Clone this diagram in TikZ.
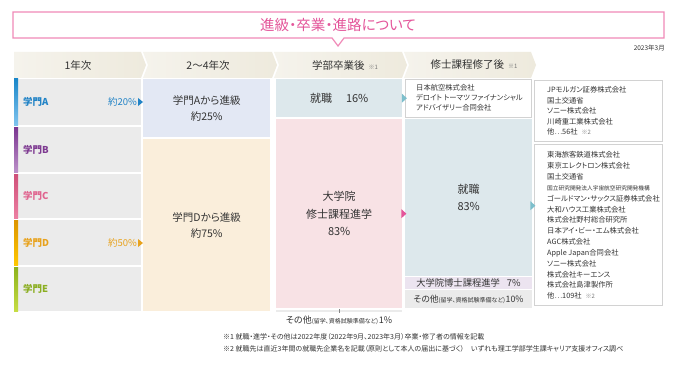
\documentclass[tikz,border=0pt]{standalone}
\usepackage{fontspec}
\setmainfont{Noto Sans CJK JP}[RawFeature=+palt]
\definecolor{titlepink}{HTML}{E4559A}
\definecolor{titleline}{HTML}{F08AB8}
\definecolor{txt}{HTML}{333333}
\definecolor{notegray}{HTML}{777777}
\definecolor{hdrL}{HTML}{F5F3EC}
\definecolor{hdrR}{HTML}{EEEADD}
\definecolor{rowgray}{HTML}{EBEBEB}
\definecolor{cTwoA}{HTML}{E3E8F4}
\definecolor{cTwoD}{HTML}{FAEEDB}
\definecolor{cJob}{HTML}{DDE8EC}
\definecolor{cPink}{HTML}{F8E2E5}
\definecolor{cLav}{HTML}{ECE4F0}
\definecolor{cGray}{HTML}{EBEBEB}
\definecolor{boxline}{HTML}{D2D2D2}
\definecolor{teal}{HTML}{7DBFCC}
\definecolor{Atop}{HTML}{1A87C9}\definecolor{Abot}{HTML}{80C4EE}\definecolor{Atext}{HTML}{2183C6}
\definecolor{Btop}{HTML}{7A3590}\definecolor{Bbot}{HTML}{BC90C9}\definecolor{Btext}{HTML}{7E3A91}
\definecolor{Ctop}{HTML}{CF4F78}\definecolor{Cbot}{HTML}{EC7FA2}\definecolor{Ctext}{HTML}{E0648F}
\definecolor{Dtop}{HTML}{DC9400}\definecolor{Dbot}{HTML}{FFC800}\definecolor{Dtext}{HTML}{E8A21C}
\definecolor{Etop}{HTML}{8DB21C}\definecolor{Ebot}{HTML}{C6DD44}\definecolor{Etext}{HTML}{8BAE21}
\begin{document}
\begin{tikzpicture}[x=1pt,y=-1pt,
  hdrshade/.style={left color=hdrL,right color=hdrR},
  hdrtext/.style={font=\fontsize{10.5}{12}\selectfont,text=txt,inner sep=0},
  cell/.style={rectangle,inner sep=0,draw=none,align=center,text=txt,anchor=north west},
  gakumon/.style={font=\bfseries\fontsize{9.5}{11}\selectfont,inner sep=0,anchor=west},
  pct/.style={font=\fontsize{9.5}{11}\selectfont,inner sep=0,anchor=east},
  comp/.style={font=\fontsize{7.3}{10.5}\selectfont,text=txt,align=left,inner sep=0,anchor=west},
  cbox/.style={draw=boxline,fill=white,line width=0.6pt},
  plain/.style={text=txt,inner sep=0},
  note/.style={font=\fontsize{7}{8}\selectfont,text=txt,inner sep=0,anchor=west}]
\useasboundingbox (0,0) rectangle (675,369);
\fill[white] (0,0) rectangle (675,369);
% title
\draw[titleline,line width=1.2pt,fill=white] (13,12) -- (664,12) -- (664,38) -- (344,38) -- (338,46) -- (332,38) -- (13,38) -- cycle;
\node[font=\fontsize{14.5}{16}\selectfont,text=titlepink,inner sep=0] (title) at (338,25) {進級・卒業・進路について};
\node[font=\fontsize{6.5}{7}\selectfont,text=txt,inner sep=0,anchor=east] (date) at (665,48) {2023年3月};
% headers
\shade[hdrshade] (14,52) -- (141,52) -- (146,65) -- (141,78) -- (14,78) -- cycle;
\shade[hdrshade] (143,52) -- (272,52) -- (277,65) -- (272,78) -- (143,78) -- (148,65) -- cycle;
\shade[hdrshade] (274,52) -- (402,52) -- (407,65) -- (402,78) -- (274,78) -- (279,65) -- cycle;
\shade[hdrshade] (404,52) -- (531,52) -- (536,65) -- (531,78) -- (404,78) -- (409,65) -- cycle;
\node[hdrtext] (h1) at (78,65) {1年次};
\node[hdrtext] (h2) at (208,65) {2〜4年次};
\node[hdrtext] (h3) at (345,65) {学部卒業後\hspace{4pt}{\fontsize{6}{7}\selectfont\color{notegray}※1}};
\node[hdrtext] (h4) at (474,65) {修士課程修了後\hspace{4pt}{\fontsize{6}{7}\selectfont\color{notegray}※1}};
% column 1
\fill[rowgray] (14,79) rectangle (141,125);
\fill[rowgray] (14,127) rectangle (141,172);
\fill[rowgray] (14,174) rectangle (141,218);
\fill[rowgray] (14,220) rectangle (141,265);
\fill[rowgray] (14,267) rectangle (141,311);
\shade[top color=Atop,bottom color=Abot] (14,79) rectangle (18,125);
\shade[top color=Btop,bottom color=Bbot] (14,127) rectangle (18,172);
\shade[top color=Ctop,bottom color=Cbot] (14,174) rectangle (18,218);
\shade[top color=Dtop,bottom color=Dbot] (14,220) rectangle (18,265);
\shade[top color=Etop,bottom color=Ebot] (14,267) rectangle (18,311);
\node[gakumon,text=Atext] (gA) at (23,102) {学門A};
\node[gakumon,text=Btext] (gB) at (23,149.5) {学門B};
\node[gakumon,text=Ctext] (gC) at (23,196) {学門C};
\node[gakumon,text=Dtext] (gD) at (23,242.5) {学門D};
\node[gakumon,text=Etext] (gE) at (23,289) {学門E};
\node[pct,text=Atext] (pA) at (137,102) {約20\%};
\node[pct,text=Dtext] (pD) at (137,243) {約50\%};
% column 2
\node[cell,fill=cTwoA,minimum width=127,minimum height=58,font=\fontsize{10.5}{16}\selectfont] (bA) at (143,79) {学門Aから進級\\約25\%};
\node[cell,fill=cTwoD,minimum width=127,minimum height=172,font=\fontsize{10.5}{16}\selectfont] (bD) at (143,139) {学門Dから進級\\約75\%};
\fill[Atext] (pA.east) ++(1,-4) -- ++(5,4) -- ++(-5,4) -- cycle;
\fill[Dtext] (pD.east) ++(1,-4) -- ++(5,4) -- ++(-5,4) -- cycle;
% column 3
\node[cell,fill=cJob,minimum width=126,minimum height=38,font=\fontsize{11}{13}\selectfont] (job1) at (276,79) {就職\hspace{14pt}16\%};
\node[cell,fill=cPink,minimum width=126,minimum height=189,font=\fontsize{11}{17.5}\selectfont] (grad) at (276,119) {大学院\\修士課程進学\\83\%};
\fill[rowgray] (276,309.5) rectangle (402,312);
\fill[txt!60] (338.6,309) rectangle (339.4,312.5);
\node[plain,font=\fontsize{9}{10}\selectfont] (oth1) at (339,320) {その他{\fontsize{6}{7}\selectfont(留学、資格試験準備など)}\hspace{0.5pt}1\%};
% column 4
\node[cell,cbox,minimum width=126,minimum height=38] (co1) at (405,79) {};
\node[comp,font=\fontsize{7.3}{10}\selectfont] (co1t) at (416,98) {日本航空株式会社\\デロイト トーマツ ファイナンシャル\\アドバイザリー合同会社};
\node[cell,fill=cJob,minimum width=127,minimum height=157,font=\fontsize{11}{17}\selectfont] (job2) at (405,119) {就職\\83\%};
\fill[cLav] (405,277) rectangle (532,289);
\fill[cGray] (405,290) rectangle (532,308);
\node[plain,font=\fontsize{9.3}{10}\selectfont] (doc) at (468.5,283) {大学院博士課程進学\hspace{7pt}7\%};
\node[plain,font=\fontsize{8.8}{10}\selectfont] (oth2) at (468.5,299.5) {その他{\fontsize{6}{7}\selectfont(留学、資格試験準備など)}\hspace{0.5pt}10\%};
% column 5
\node[cell,cbox,minimum width=128,minimum height=61] (co2) at (534,80) {};
\node[comp] (co2t) at (547,111) {JPモルガン証券株式会社\\国土交通省\\ソニー株式会社\\川崎重工業株式会社\\他…56社\hspace{4pt}{\fontsize{6}{7}\selectfont\color{notegray}※2}};
\node[cell,cbox,minimum width=128,minimum height=161] (co3) at (534,144) {};
\node[comp,font=\fontsize{7.3}{10.85}\selectfont] (co3t) at (547,225.5) {東海旅客鉄道株式会社\\東京エレクトロン株式会社\\国土交通省\\{\fontsize{5.7}{10.85}\selectfont 国立研究開発法人宇宙航空研究開発機構}\\ゴールドマン・サックス証券株式会社\\大和ハウス工業株式会社\\株式会社野村総合研究所\\日本アイ・ビー・エム株式会社\\AGC株式会社\\Apple Japan合同会社\\ソニー株式会社\\株式会社キーエンス\\株式会社島津製作所\\他…109社\hspace{4pt}{\fontsize{6}{7}\selectfont\color{notegray}※2}};
% arrows
\fill[teal] (job1.east) ++(-0.5,-4.5) -- ++(5,4.5) -- ++(-5,4.5) -- cycle;
\fill[titlepink] (grad.east) ++(-1,-4.5) -- ++(5,4.5) -- ++(-5,4.5) -- cycle;
\fill[teal] (job2.east) ++(-2,3.5) -- ++(5,4.5) -- ++(-5,4.5) -- cycle;
% footnotes
\node[note] (n1) at (223,337) {※1 就職・進学・その他は2022年度（2022年9月、2023年3月）卒業・修了者の情報を記載};
\node[note] (n2) at (223,349) {※2 就職先は直近3年間の就職先企業名を記載（原則として本人の届出に基づく）　いずれも理工学部学生課キャリア支援オフィス調べ};
\end{tikzpicture}
\end{document}
